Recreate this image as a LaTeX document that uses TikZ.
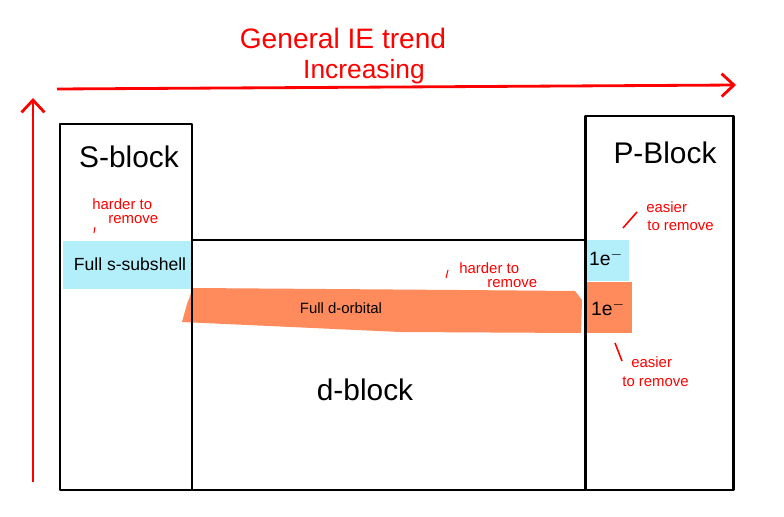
\documentclass[tikz,border=0pt]{standalone}
\usepackage{fontspec}
\setmainfont{Liberation Sans}
\usepackage{tikz}
\usetikzlibrary{arrows.meta,positioning}
\definecolor{TrendRed}{HTML}{FF0000}
\definecolor{SubBlue}{HTML}{B3EEFB}
\definecolor{OrbOrange}{HTML}{FF8A5B}
\newcommand{\fs}[1]{\fontsize{#1}{#1}\selectfont}

\begin{document}
\begin{tikzpicture}[x=0.02cm,y=-0.02cm,
    note/.style={font=\fs{8.5},TrendRed,anchor=west,inner sep=0pt},
    blk/.style={draw,line width=1.7pt,line join=round},
    trend/.style={TrendRed,line width=1.6pt,-{Straight Barb[length=7pt,width=13pt,line width=1.6pt]}}]
  \useasboundingbox (0,0) rectangle (784,517);
  % shaded subshells
  \fill[SubBlue] (63,241) rectangle (192,289);
  \fill[SubBlue] (587,240) rectangle (629,281);
  \fill[OrbOrange] (193,288) -- (460,290) -- (575,291) -- (582,300) -- (581,333)
    -- (400,332) -- (182,322) -- (187,304) -- cycle;
  \fill[OrbOrange] (587,282) rectangle (632,333);
  % blocks
  \draw[blk] (60,124) rectangle (192,490);
  \draw[blk] (192,240) rectangle (585,490);
  \draw[blk] (585,116) rectangle (733,490);
  \node[font=\fs{17}] (sblk) at (129,157) {S-block};
  \node[font=\fs{17}] (pblk) at (665,153) {P-Block};
  \node[font=\fs{17}] (dblk) at (365,390) {d-block};
  \node[font=\fs{10}] (sfull) at (130,264) {Full s-subshell};
  \node[font=\fs{8.5}] (dfull) at (341,308) {Full d-orbital};
  \node[font=\fs{11}] (eblue) at (606,258) {1e$^-$};
  \node[font=\fs{11}] (eorg) at (608,308) {1e$^-$};
  % trend arrows
  \coordinate (xl) at (57,89);
  \coordinate (xr) at (736,85);
  \coordinate (yb) at (33,482);
  \coordinate (yt) at (33,98);
  \draw[trend] (xl) -- (xr);
  \draw[trend] (yb) -- (yt);
  \node[font=\fs{16},TrendRed] (title) at (343,38) {General IE trend};
  \node[font=\fs{15},TrendRed] (incr) at (364,72) {Increasing};
  % notes
  \node[note] (hs1) at (92,204) {harder to};
  \node[note] (hs2) at (108,220) {remove};
  \draw[TrendRed,line width=0.6pt] (95,227) -- (94,233);
  \node[note] (hd1) at (459,268) {harder to};
  \node[note] (hd2) at (487,284) {remove};
  \draw[TrendRed,line width=0.6pt] (448,270) -- (446,278);
  \node[note] (ep1) at (646,207) {easier};
  \node[note] (ep2) at (647,226) {to remove};
  \draw[TrendRed,line width=0.9pt] (623,228) -- (637,212);
  \node[note] (eo1) at (631,362) {easier};
  \node[note] (eo2) at (622,382) {to remove};
  \draw[TrendRed,line width=0.9pt] (615,343) -- (622,361);
\end{tikzpicture}
\end{document}
